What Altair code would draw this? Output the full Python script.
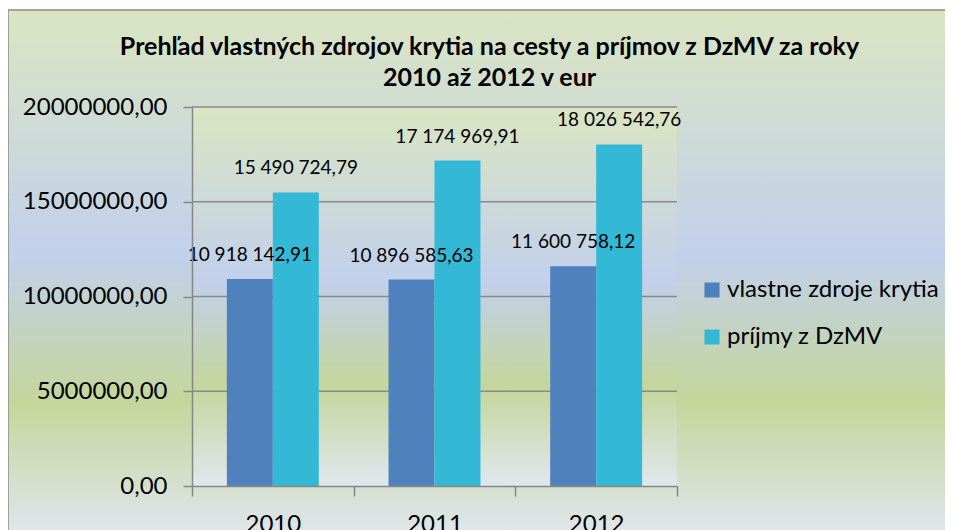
import altair as alt
import pandas as pd

years = ["2010", "2011", "2012"]
series = ["vlastne zdroje krytia", "príjmy z DzMV"]
own_sources = [10918142.91, 10896585.63, 11600758.12]
income = [15490724.79, 17174969.91, 18026542.76]
y_ticks = [0, 5000000, 10000000, 15000000, 20000000]
title_lines = ["Prehľad vlastných zdrojov krytia na cesty a príjmov z DzMV za roky",
               "2010 až 2012 v eur"]
colors = ["#4F81BD", "#33B9D6"]


def fmt(v):
    return f"{v:,.2f}".replace(",", " ").replace(".", ",")


rows = []
for i, y in enumerate(years):
    rows.append({"year": y, "series": series[0], "value": own_sources[i], "label": fmt(own_sources[i])})
    rows.append({"year": y, "series": series[1], "value": income[i], "label": fmt(income[i])})
df = pd.DataFrame(rows)
grid_df = pd.DataFrame({"value": y_ticks[1:]})
one = pd.DataFrame({"k": [0]})

FONT = "Lato"
W, H = 485, 379

stops = [
    {"offset": 0.0, "color": "#dae5c2"},
    {"offset": 0.46, "color": "#c2d0eb"},
    {"offset": 0.74, "color": "#c4d69b"},
    {"offset": 1.0, "color": "#e0e7ef"},
]
grad = {"gradient": "linear", "x1": 0, "y1": 0, "x2": 0, "y2": 1, "stops": stops}

outer_bg = alt.Chart(one).mark_rect(fill=grad, stroke="#8c8c8c", strokeWidth=1.5).encode(
    x=alt.value(-184), x2=alt.value(790), y=alt.value(-97), y2=alt.value(433)
)
inner_bg = alt.Chart(one).mark_rect(fill=grad).encode(
    x=alt.value(0), x2=alt.value(W), y=alt.value(0), y2=alt.value(H)
)

yscale = alt.Scale(domain=[0, 20000000], nice=False)
yaxis = alt.Axis(
    title=None, values=y_ticks, labelExpr="replace(format(datum.value, '.2f'), '.', ',')",
    labelFont=FONT, labelFontSize=24, labelColor="#000000",
    tickSize=9, tickColor="#868686", tickWidth=1.5,
    domainColor="#868686", domainWidth=1.5, labelPadding=16, zindex=1, grid=False,
)

grid = alt.Chart(grid_df).mark_rule(color="#8a8a8a", strokeWidth=1.5).encode(
    y=alt.Y("value:Q", scale=yscale, axis=yaxis),
    x=alt.value(0), x2=alt.value(W),
)

xenc = alt.X(
    "year:N",
    sort=years,
    scale=alt.Scale(paddingInner=0, paddingOuter=0),
    axis=alt.Axis(
        title=None, labelAngle=0, labelFont=FONT, labelFontSize=24, labelColor="#000000",
        tickBand="extent", tickSize=10, tickColor="#868686", tickWidth=1.5,
        domainColor="#868686", domainWidth=1.5, labelPadding=16, zindex=1, grid=False,
    ),
)
xoff = alt.XOffset("series:N", sort=series,
                   scale=alt.Scale(paddingInner=0, paddingOuter=0.758))

bars = alt.Chart(df).mark_bar().encode(
    x=xenc,
    y=alt.Y("value:Q", scale=yscale, axis=yaxis),
    xOffset=xoff,
    color=alt.Color(
        "series:N",
        sort=series,
        scale=alt.Scale(domain=series, range=colors),
        legend=alt.Legend(
            title=None, orient="none", legendX=508, legendY=171,
            symbolType="square", symbolSize=225, symbolStrokeWidth=0,
            labelFont=FONT, labelFontSize=24, labelColor="#000000", labelLimit=0,
            labelOffset=3, rowPadding=23, padding=0, zindex=1,
        ),
    ),
)

labels = alt.Chart(df).mark_text(
    font=FONT, fontSize=19, color="#000000", align="center", baseline="middle", dy=-24
).encode(
    x=alt.X("year:N", sort=years),
    y=alt.Y("value:Q", scale=yscale),
    xOffset=alt.XOffset("series:N", sort=series),
    text="label:N",
)

chart = alt.layer(outer_bg, inner_bg, grid, bars, labels).properties(
    width=W,
    height=H,
    title=alt.TitleParams(
        text=title_lines, font=FONT, fontSize=25, fontWeight="bold", color="#000000",
        anchor="middle", dx=55, offset=-82, lineHeight=31, zindex=1,
    ),
    padding={"left": 184, "top": 99, "right": 268, "bottom": 44},
    autosize=alt.AutoSizeParams(type="none"),
).configure_view(stroke=None).configure(background="#ffffff")

chart.save("out.html", embed_options={"renderer": "svg", "actions": False})
